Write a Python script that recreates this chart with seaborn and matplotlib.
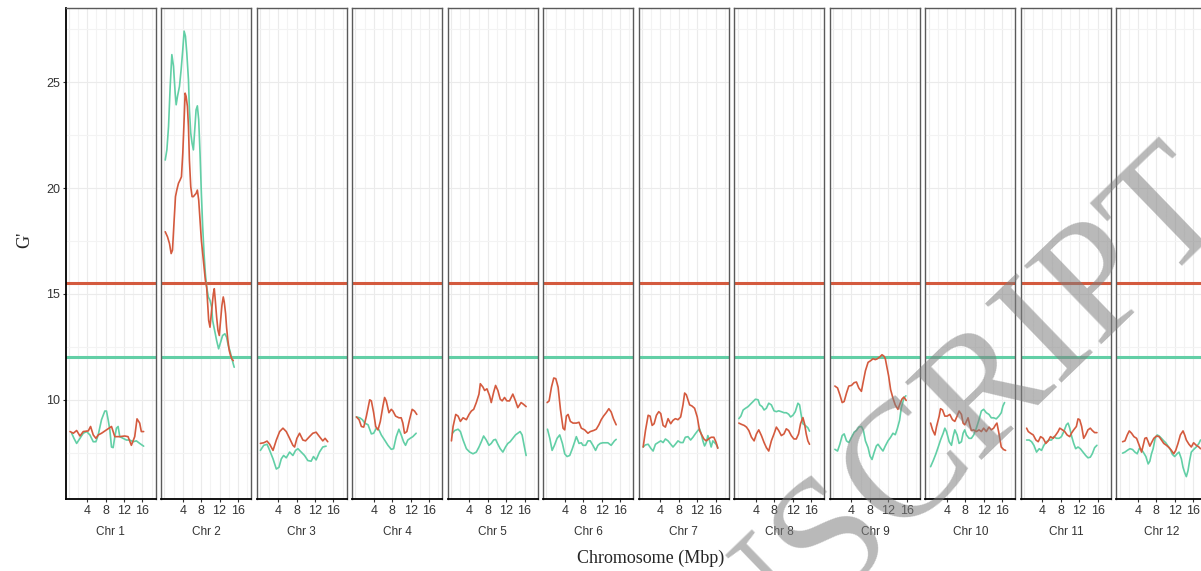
import numpy as np
import pandas as pd
import matplotlib
matplotlib.use('Agg')
import matplotlib.pyplot as plt
import seaborn as sns

# --- chromosome panels ---
chromosomes = ['Chr 1', 'Chr 2', 'Chr 3', 'Chr 4', 'Chr 5', 'Chr 6',
               'Chr 7', 'Chr 8', 'Chr 9', 'Chr 10', 'Chr 11', 'Chr 12']

# --- G' thresholds ---
red_threshold = 15.5
teal_threshold = 12.0

# --- G' traces (position in Mbp, G' value) ---
chr1_red_x = [0.26, 0.98, 1.70, 2.42, 3.14, 4.23, 4.73, 5.31, 5.89, 6.39, 7.11, 8.19, 9.28, 10.0, 11.08, 12.16, 12.88, 13.6, 14.33, 14.83, 15.41, 15.77, 16.27]
chr1_red_y = [8.50, 8.42, 8.55, 8.29, 8.50, 8.53, 8.74, 8.34, 8.18, 8.34, 8.42, 8.58, 8.74, 8.26, 8.26, 8.29, 8.26, 7.85, 8.26, 9.10, 8.90, 8.50, 8.50]
chr1_teal_x = [0.62, 1.12, 1.70, 2.42, 3.14, 3.87, 4.59, 5.31, 5.89, 6.39, 7.11, 7.83, 8.19, 8.55, 8.92, 9.28, 9.64, 10.0, 10.36, 10.72, 11.08, 11.8, 12.52, 13.25, 13.97, 14.69, 15.41, 16.27]
chr1_teal_y = [8.42, 8.18, 7.94, 8.18, 8.42, 8.50, 8.34, 8.02, 8.02, 8.34, 9.06, 9.47, 9.47, 9.06, 8.58, 7.77, 7.74, 8.26, 8.66, 8.74, 8.26, 8.18, 8.10, 8.10, 8.02, 8.06, 7.94, 7.81]

chr2_red_x = [0.19, 0.69, 1.12, 1.48, 1.77, 2.13, 2.42, 2.71, 3.07, 3.43, 3.72, 4.01, 4.30, 4.52, 4.73, 5.02, 5.24, 5.45, 5.74, 6.03, 6.32, 6.61, 6.90, 7.18, 7.47, 7.76, 8.05, 8.34, 8.63, 8.92, 9.20, 9.42, 9.64, 9.93, 10.14, 10.43, 10.65, 10.86, 11.08, 11.37, 11.66, 11.95, 12.23, 12.52, 12.81, 13.03, 13.32, 13.53, 13.82, 14.11, 14.40, 14.69, 14.98]
chr2_red_y = [17.94, 17.70, 17.38, 16.91, 17.07, 18.49, 19.60, 19.91, 20.23, 20.39, 20.54, 21.65, 23.23, 24.49, 24.34, 23.86, 22.91, 21.33, 20.07, 19.60, 19.60, 19.68, 19.75, 19.91, 19.44, 18.49, 17.54, 16.91, 16.28, 15.65, 15.33, 14.54, 13.75, 13.43, 13.91, 14.54, 15.01, 15.25, 14.70, 13.91, 13.28, 13.04, 13.75, 14.46, 14.86, 14.62, 14.07, 13.43, 12.80, 12.33, 12.09, 11.93, 11.85]
chr2_teal_x = [0.19, 0.55, 0.91, 1.27, 1.63, 1.99, 2.35, 2.57, 2.86, 3.29, 3.65, 4.01, 4.30, 4.59, 4.88, 5.24, 5.45, 5.74, 6.03, 6.32, 6.61, 6.90, 7.18, 7.47, 7.76, 8.05, 8.34, 8.63, 8.92, 9.20, 9.57, 9.93, 10.29, 10.50, 10.79, 11.08, 11.37, 11.80, 12.23, 12.67, 13.17, 13.53, 13.89, 14.25, 14.62, 14.98, 15.19]
chr2_teal_y = [21.33, 21.81, 22.91, 24.81, 26.31, 25.76, 24.49, 23.94, 24.34, 24.81, 25.6, 26.55, 27.42, 27.18, 26.39, 25.13, 23.70, 22.60, 22.12, 21.81, 22.76, 23.70, 23.89, 23.23, 21.65, 19.75, 18.17, 16.91, 15.96, 15.33, 14.86, 14.70, 14.38, 13.75, 13.43, 13.12, 12.80, 12.41, 12.72, 13.04, 13.12, 12.96, 12.57, 12.33, 12.01, 11.70, 11.54]

chr3_red_x = [0.11, 0.84, 1.56, 2.13, 2.86, 3.58, 4.30, 5.02, 5.74, 6.46, 7.18, 7.55, 8.05, 8.63, 9.35, 9.93, 10.79, 11.51, 12.23, 12.96, 13.68, 14.18, 14.76]
chr3_red_y = [7.94, 7.97, 8.05, 7.90, 7.61, 8.10, 8.50, 8.66, 8.50, 8.18, 7.85, 7.77, 8.18, 8.42, 8.10, 8.06, 8.26, 8.42, 8.47, 8.26, 8.06, 8.18, 8.02]
chr3_teal_x = [0.11, 0.84, 1.56, 2.13, 2.86, 3.58, 4.15, 4.66, 5.16, 5.74, 6.46, 7.18, 7.76, 8.27, 8.99, 9.71, 10.43, 11.15, 11.66, 12.23, 12.96, 13.68, 14.4]
chr3_teal_y = [7.61, 7.85, 7.90, 7.61, 7.21, 6.73, 6.81, 7.21, 7.37, 7.26, 7.53, 7.37, 7.61, 7.69, 7.53, 7.37, 7.13, 7.10, 7.32, 7.16, 7.53, 7.77, 7.81]

chr4_red_x = [0.22, 0.80, 1.30, 1.81, 2.39, 3.11, 3.47, 3.97, 4.41, 4.91, 5.42, 5.99, 6.35, 6.71, 7.29, 7.80, 8.16, 8.74, 9.46, 9.96, 10.32, 10.68, 11.19, 11.77, 12.34, 12.85, 13.35]
chr4_red_y = [9.19, 9.06, 8.74, 8.71, 9.23, 10.0, 9.95, 9.39, 8.74, 8.58, 8.98, 9.71, 10.11, 9.95, 9.39, 9.55, 9.47, 9.23, 9.15, 9.15, 8.90, 8.42, 8.50, 9.06, 9.55, 9.47, 9.31]
chr4_teal_x = [0.22, 0.94, 1.52, 2.03, 2.75, 3.47, 3.97, 4.55, 5.13, 5.63, 6.35, 7.08, 7.80, 8.30, 8.88, 9.46, 9.96, 10.47, 10.9, 11.4, 11.91, 12.49, 13.21]
chr4_teal_y = [9.19, 9.15, 9.06, 8.90, 8.82, 8.39, 8.42, 8.66, 8.58, 8.34, 8.10, 7.85, 7.66, 7.69, 8.26, 8.61, 8.34, 8.02, 7.85, 8.10, 8.18, 8.26, 8.42]

chr5_red_x = [0.11, 0.47, 1.05, 1.56, 2.06, 2.64, 3.36, 3.94, 4.44, 4.95, 5.52, 6.10, 6.39, 6.97, 7.33, 7.83, 8.41, 8.77, 9.28, 9.71, 10.21, 10.72, 11.15, 11.66, 12.16, 12.74, 13.46, 14.04, 14.54, 15.26, 15.77, 16.35]
chr5_red_y = [8.06, 8.74, 9.31, 9.23, 8.98, 9.15, 9.06, 9.31, 9.47, 9.55, 9.87, 10.27, 10.76, 10.60, 10.44, 10.52, 10.19, 9.87, 10.35, 10.68, 10.44, 10.03, 9.95, 10.11, 9.95, 9.95, 10.27, 9.95, 9.63, 9.87, 9.79, 9.68]
chr5_teal_x = [0.33, 0.83, 1.56, 2.06, 2.64, 3.36, 4.08, 4.80, 5.52, 6.10, 6.61, 7.11, 7.69, 8.27, 8.77, 9.28, 9.71, 10.21, 10.72, 11.30, 11.87, 12.38, 12.88, 13.46, 14.04, 14.54, 15.05, 15.48, 15.91, 16.35]
chr5_teal_y = [8.42, 8.55, 8.61, 8.50, 8.10, 7.69, 7.53, 7.45, 7.53, 7.77, 8.02, 8.29, 8.10, 7.85, 7.94, 8.10, 8.13, 7.90, 7.69, 7.53, 7.77, 7.94, 8.02, 8.18, 8.34, 8.42, 8.50, 8.34, 7.85, 7.37]

chr6_red_x = [0.15, 0.58, 1.09, 1.59, 2.03, 2.53, 3.04, 3.61, 3.97, 4.33, 4.70, 5.20, 5.78, 6.50, 7.08, 7.58, 8.30, 9.02, 9.53, 10.25, 10.83, 11.40, 11.91, 12.41, 12.99, 13.57, 14.08, 14.58, 15.16]
chr6_red_y = [9.87, 9.95, 10.60, 11.03, 11.0, 10.60, 9.55, 8.66, 8.58, 9.23, 9.31, 8.98, 8.90, 8.90, 8.94, 8.66, 8.58, 8.42, 8.50, 8.55, 8.61, 8.82, 9.06, 9.23, 9.39, 9.58, 9.42, 9.10, 8.82]
chr6_teal_x = [0.22, 0.73, 1.23, 1.74, 2.31, 2.89, 3.47, 3.97, 4.48, 5.06, 5.63, 6.14, 6.50, 7.08, 7.58, 7.94, 8.52, 9.02, 9.53, 10.10, 10.68, 11.19, 11.69, 12.27, 12.85, 13.35, 14.07, 14.79, 15.16]
chr6_teal_y = [8.61, 8.18, 7.61, 7.85, 8.18, 8.34, 7.94, 7.45, 7.32, 7.37, 7.69, 8.02, 8.26, 7.94, 7.97, 7.85, 7.85, 8.06, 8.06, 7.85, 7.61, 7.85, 7.94, 7.97, 7.97, 7.97, 7.85, 8.06, 8.13]

chr7_red_x = [0.26, 0.76, 1.34, 1.77, 2.21, 2.64, 3.14, 3.65, 4.08, 4.59, 5.09, 5.67, 6.25, 6.75, 7.26, 7.83, 8.41, 8.92, 9.28, 9.64, 10.0, 10.36, 10.86, 11.44, 12.02, 12.52, 12.88, 13.46, 13.97, 14.47, 15.05, 15.63, 16.13, 16.49]
chr7_red_y = [7.77, 8.55, 9.27, 9.23, 8.79, 8.87, 9.27, 9.44, 9.35, 8.79, 8.71, 9.11, 8.87, 9.03, 9.11, 9.06, 9.19, 9.76, 10.32, 10.24, 10.0, 9.76, 9.71, 9.60, 9.19, 8.55, 8.39, 8.15, 8.06, 8.15, 8.23, 8.23, 7.98, 7.71]
chr7_teal_x = [0.26, 0.76, 1.34, 1.92, 2.42, 2.93, 3.50, 4.08, 4.59, 5.09, 5.67, 6.25, 6.75, 7.26, 7.83, 8.41, 8.92, 9.42, 10.0, 10.57, 11.08, 11.59, 12.16, 12.52, 12.88, 13.25, 13.61, 13.97, 14.33, 14.69, 15.05, 15.41, 15.77, 16.13, 16.49]
chr7_teal_y = [7.77, 7.87, 7.90, 7.71, 7.58, 7.90, 7.98, 8.06, 7.98, 8.15, 8.06, 7.90, 7.77, 7.90, 8.06, 7.98, 7.98, 8.23, 8.26, 8.10, 8.23, 8.39, 8.55, 8.63, 8.39, 8.06, 7.82, 7.98, 8.31, 8.06, 7.77, 8.06, 7.98, 7.90, 7.74]

chr8_red_x = [0.29, 0.87, 1.45, 1.95, 2.46, 3.04, 3.61, 4.12, 4.62, 5.20, 5.78, 6.28, 6.79, 7.36, 7.94, 8.45, 8.95, 9.53, 10.11, 10.61, 11.12, 11.69, 12.27, 12.78, 13.28, 13.71, 14.22, 14.58, 14.94, 15.30, 15.66]
chr8_red_y = [8.90, 8.84, 8.79, 8.71, 8.55, 8.23, 8.06, 8.39, 8.58, 8.31, 7.98, 7.74, 7.58, 8.06, 8.39, 8.71, 8.55, 8.31, 8.39, 8.63, 8.55, 8.31, 8.15, 8.15, 8.39, 8.87, 9.16, 8.87, 8.39, 8.06, 7.90]
chr8_teal_x = [0.29, 0.73, 1.23, 1.74, 2.31, 2.89, 3.40, 3.90, 4.48, 4.84, 5.34, 5.78, 6.28, 6.79, 7.36, 7.94, 8.45, 8.95, 9.53, 10.11, 10.61, 11.12, 11.55, 12.05, 12.56, 13.14, 13.50, 13.86, 14.22, 14.72, 15.30, 15.66]
chr8_teal_y = [9.11, 9.23, 9.52, 9.60, 9.68, 9.81, 9.92, 10.03, 10.0, 9.76, 9.68, 9.52, 9.60, 9.84, 9.76, 9.48, 9.44, 9.48, 9.44, 9.39, 9.39, 9.32, 9.19, 9.27, 9.44, 9.84, 9.76, 9.27, 8.87, 8.79, 8.68, 8.52]

chr9_red_x = [0.40, 0.98, 1.48, 1.99, 2.42, 2.93, 3.43, 4.01, 4.59, 5.09, 5.60, 6.17, 6.53, 7.04, 7.62, 8.19, 8.70, 9.20, 9.64, 10.14, 10.65, 11.08, 11.37, 11.66, 12.09, 12.52, 13.03, 13.53, 14.11, 14.47, 14.98, 15.41, 15.91]
chr9_red_y = [10.65, 10.56, 10.24, 9.87, 9.92, 10.32, 10.65, 10.68, 10.81, 10.84, 10.56, 10.40, 10.81, 11.37, 11.77, 11.85, 11.94, 11.90, 11.94, 12.02, 12.13, 12.06, 11.94, 11.61, 11.13, 10.48, 10.08, 9.76, 9.55, 9.76, 10.03, 10.13, 9.97]
chr9_teal_x = [0.40, 0.98, 1.48, 1.99, 2.42, 2.93, 3.43, 4.01, 4.59, 5.09, 5.60, 6.17, 6.61, 7.04, 7.62, 8.05, 8.48, 8.92, 9.42, 9.78, 10.29, 10.86, 11.37, 11.95, 12.52, 13.03, 13.53, 13.97, 14.47, 14.83, 15.41, 15.84]
chr9_teal_y = [7.66, 7.58, 7.90, 8.31, 8.39, 8.06, 7.98, 8.23, 8.47, 8.55, 8.71, 8.74, 8.55, 8.06, 7.74, 7.34, 7.18, 7.50, 7.82, 7.90, 7.74, 7.58, 7.82, 8.06, 8.23, 8.42, 8.35, 8.63, 9.03, 9.60, 10.08, 10.19]

chr10_red_x = [0.44, 0.87, 1.38, 1.74, 2.31, 2.60, 3.04, 3.54, 4.05, 4.62, 5.20, 5.71, 6.21, 6.64, 7.15, 7.51, 7.87, 8.23, 8.59, 8.95, 9.31, 9.82, 10.39, 10.97, 11.48, 11.98, 12.56, 13.14, 13.64, 14.15, 14.58, 14.87, 15.30, 15.81, 16.31, 16.75]
chr10_red_y = [8.90, 8.58, 8.34, 8.74, 9.23, 9.58, 9.52, 9.23, 9.23, 9.31, 9.06, 8.98, 9.23, 9.47, 9.31, 8.90, 8.82, 8.98, 9.15, 8.82, 8.55, 8.58, 8.50, 8.58, 8.50, 8.66, 8.50, 8.71, 8.58, 8.66, 8.82, 8.90, 8.42, 7.77, 7.65, 7.61]
chr10_teal_x = [0.44, 1.02, 1.60, 2.10, 2.60, 3.18, 3.54, 3.90, 4.48, 4.98, 5.34, 5.71, 6.21, 6.64, 7.15, 7.51, 7.87, 8.23, 8.81, 9.31, 9.82, 10.39, 10.97, 11.48, 11.98, 12.56, 13.14, 13.64, 14.15, 14.72, 15.30, 15.81, 16.17, 16.53]
chr10_teal_y = [6.84, 7.13, 7.45, 7.77, 8.10, 8.42, 8.66, 8.50, 8.02, 7.85, 8.26, 8.58, 8.34, 7.94, 8.02, 8.42, 8.58, 8.34, 8.18, 8.18, 8.34, 8.66, 9.06, 9.47, 9.55, 9.39, 9.31, 9.15, 9.15, 9.10, 9.23, 9.39, 9.71, 9.87]

chr11_red_x = [0.55, 0.91, 1.41, 1.99, 2.57, 3.07, 3.58, 4.15, 4.73, 5.24, 5.74, 6.32, 6.90, 7.40, 7.76, 8.34, 8.84, 9.35, 9.93, 10.29, 10.79, 11.37, 11.73, 12.09, 12.52, 12.96, 13.39, 13.89, 14.40, 14.83, 15.34, 15.84]
chr11_red_y = [8.66, 8.50, 8.42, 8.34, 8.10, 8.02, 8.26, 8.18, 7.94, 8.06, 8.26, 8.18, 8.34, 8.50, 8.66, 8.58, 8.50, 8.34, 8.26, 8.42, 8.58, 8.74, 9.10, 9.06, 8.74, 8.18, 8.34, 8.58, 8.66, 8.55, 8.45, 8.45]
chr11_teal_x = [0.55, 1.12, 1.63, 2.13, 2.71, 3.29, 3.79, 4.30, 4.88, 5.45, 5.96, 6.46, 7.04, 7.62, 8.12, 8.63, 9.20, 9.57, 9.93, 10.36, 10.79, 11.22, 11.73, 12.23, 12.81, 13.39, 13.89, 14.40, 14.83, 15.34, 15.84]
chr11_teal_y = [8.10, 8.10, 8.02, 7.85, 7.53, 7.69, 7.61, 7.85, 8.02, 8.10, 8.10, 8.26, 8.18, 8.18, 8.26, 8.50, 8.82, 8.90, 8.66, 8.26, 7.94, 7.69, 7.77, 7.69, 7.53, 7.37, 7.26, 7.29, 7.45, 7.74, 7.85]

chr12_red_x = [0.65, 1.16, 1.66, 2.10, 2.60, 3.11, 3.69, 4.26, 4.77, 5.13, 5.49, 5.85, 6.21, 6.57, 6.93, 7.44, 8.02, 8.59, 9.10, 9.60, 10.18, 10.76, 11.26, 11.77, 12.20, 12.70, 13.21, 13.79, 14.15, 14.51, 15.08, 15.59, 16.09, 16.67, 17.24, 17.6]
chr12_red_y = [8.02, 8.06, 8.34, 8.53, 8.42, 8.26, 8.18, 7.85, 7.53, 7.85, 8.18, 8.21, 8.02, 7.81, 7.97, 8.18, 8.29, 8.26, 8.10, 7.94, 7.85, 7.74, 7.61, 7.45, 7.61, 7.94, 8.34, 8.53, 8.34, 8.10, 7.90, 7.77, 7.97, 7.85, 7.77, 7.69]
chr12_teal_x = [0.65, 1.16, 1.66, 2.24, 2.82, 3.32, 3.83, 4.26, 4.77, 5.27, 5.71, 6.21, 6.57, 6.93, 7.29, 7.73, 8.16, 8.59, 9.10, 9.60, 10.03, 10.54, 11.04, 11.48, 11.98, 12.49, 12.92, 13.43, 13.79, 14.15, 14.51, 14.87, 15.23, 15.59, 16.09, 16.67, 17.24, 17.6]
chr12_teal_y = [7.48, 7.53, 7.61, 7.69, 7.65, 7.53, 7.45, 7.69, 7.65, 7.48, 7.32, 6.97, 7.10, 7.45, 7.69, 8.18, 8.34, 8.29, 8.18, 8.06, 7.97, 7.81, 7.65, 7.42, 7.32, 7.45, 7.53, 7.21, 6.81, 6.56, 6.37, 6.65, 7.13, 7.53, 7.65, 7.77, 7.94, 8.10]

x_ticks = [4, 8, 12, 16]
y_ticks = [10, 15, 20, 25]

red_color = '#D45A3E'
teal_color = '#62CFA6'

# build long-form table
traces = [
    (chr1_red_x, chr1_red_y, chr1_teal_x, chr1_teal_y),
    (chr2_red_x, chr2_red_y, chr2_teal_x, chr2_teal_y),
    (chr3_red_x, chr3_red_y, chr3_teal_x, chr3_teal_y),
    (chr4_red_x, chr4_red_y, chr4_teal_x, chr4_teal_y),
    (chr5_red_x, chr5_red_y, chr5_teal_x, chr5_teal_y),
    (chr6_red_x, chr6_red_y, chr6_teal_x, chr6_teal_y),
    (chr7_red_x, chr7_red_y, chr7_teal_x, chr7_teal_y),
    (chr8_red_x, chr8_red_y, chr8_teal_x, chr8_teal_y),
    (chr9_red_x, chr9_red_y, chr9_teal_x, chr9_teal_y),
    (chr10_red_x, chr10_red_y, chr10_teal_x, chr10_teal_y),
    (chr11_red_x, chr11_red_y, chr11_teal_x, chr11_teal_y),
    (chr12_red_x, chr12_red_y, chr12_teal_x, chr12_teal_y),
]
frames = []
for chrom, (rx, ry, tx, ty) in zip(chromosomes, traces):
    frames.append(pd.DataFrame({'chrom': chrom, 'bulk': 'teal', 'pos': tx, 'g': ty}))
    frames.append(pd.DataFrame({'chrom': chrom, 'bulk': 'red', 'pos': rx, 'g': ry}))
df = pd.concat(frames, ignore_index=True)

sns.set_style('white')
plt.rcParams['font.family'] = ['Liberation Sans', 'DejaVu Sans']

fig, axes = plt.subplots(1, 12, figsize=(12.01, 5.71), dpi=100, sharey=True)
# last panel runs past the right edge, like the cropped original
fig.subplots_adjust(left=0.0547, right=1.0046, bottom=0.1256, top=0.9855, wspace=0.061)

palette = {'red': red_color, 'teal': teal_color}

for i, (ax, chrom) in enumerate(zip(axes, chromosomes)):
    ax.set_xlim(-0.68, 18.9)
    ax.set_ylim(5.3, 28.5)

    # grid
    for gx in np.arange(0, 19, 2):
        ax.axvline(gx, color='#EBEBEB' if gx % 4 == 0 else '#F3F3F3', lw=0.8, zorder=0)
    for gy in [7.5, 12.5, 17.5, 22.5, 27.5]:
        ax.axhline(gy, color='#F3F3F3', lw=0.8, zorder=0)
    for gy in y_ticks:
        ax.axhline(gy, color='#EBEBEB', lw=0.8, zorder=0)

    ax.axhline(red_threshold, color=red_color, lw=2.2, zorder=1)
    ax.axhline(teal_threshold, color=teal_color, lw=2.2, zorder=1)

    sub = df[df['chrom'] == chrom]
    sns.lineplot(data=sub, x='pos', y='g', hue='bulk', palette=palette,
                 hue_order=['teal', 'red'], estimator=None, sort=False,
                 legend=False, linewidth=1.2, ax=ax, zorder=2)

    ax.set_xlabel('')
    ax.set_ylabel('')
    ax.set_xticks(x_ticks)
    ax.set_xticklabels([str(t) for t in x_ticks])
    ax.tick_params(axis='x', length=2.5, width=0.8, pad=1.5, labelsize=9,
                   colors='#333333', bottom=True)

    for side in ['top', 'right', 'left']:
        ax.spines[side].set_color('#5A5A5A')
        ax.spines[side].set_linewidth(1.0)
    ax.spines['bottom'].set_color('black')
    ax.spines['bottom'].set_linewidth(1.3)

    if i == 0:
        ax.set_yticks(y_ticks)
        ax.spines['left'].set_color('black')
        ax.spines['left'].set_linewidth(1.3)
        ax.tick_params(axis='y', length=2.5, width=0.8, pad=1.5, labelsize=9,
                       colors='#333333', left=True)
    else:
        ax.tick_params(axis='y', left=False, labelleft=False)

    # strip label under the axis
    ax.text(0.5, -0.0666, chrom, transform=ax.transAxes, ha='center',
            va='center', fontsize=8.5, color='#333333')

fig.text(651 / 1201, 1 - 558 / 571, 'Chromosome (Mbp)', ha='center', va='center',
         fontsize=13, family=['Liberation Serif', 'DejaVu Serif'])
fig.text(25 / 1201, 1 - 240 / 571, "G'", ha='center', va='center', rotation=90,
         fontsize=13, family=['Liberation Serif', 'DejaVu Serif'])

# watermark (runs off the bottom and right edges as in the original)
fig.text(0.685, 0.03, 'MANUSCRIPT', rotation=44, rotation_mode='anchor',
         ha='center', va='center', fontsize=120,
         family=['Liberation Serif', 'DejaVu Serif'],
         color='#7F7F7F', alpha=0.55, zorder=10)

fig.savefig('out.png', dpi=100)
